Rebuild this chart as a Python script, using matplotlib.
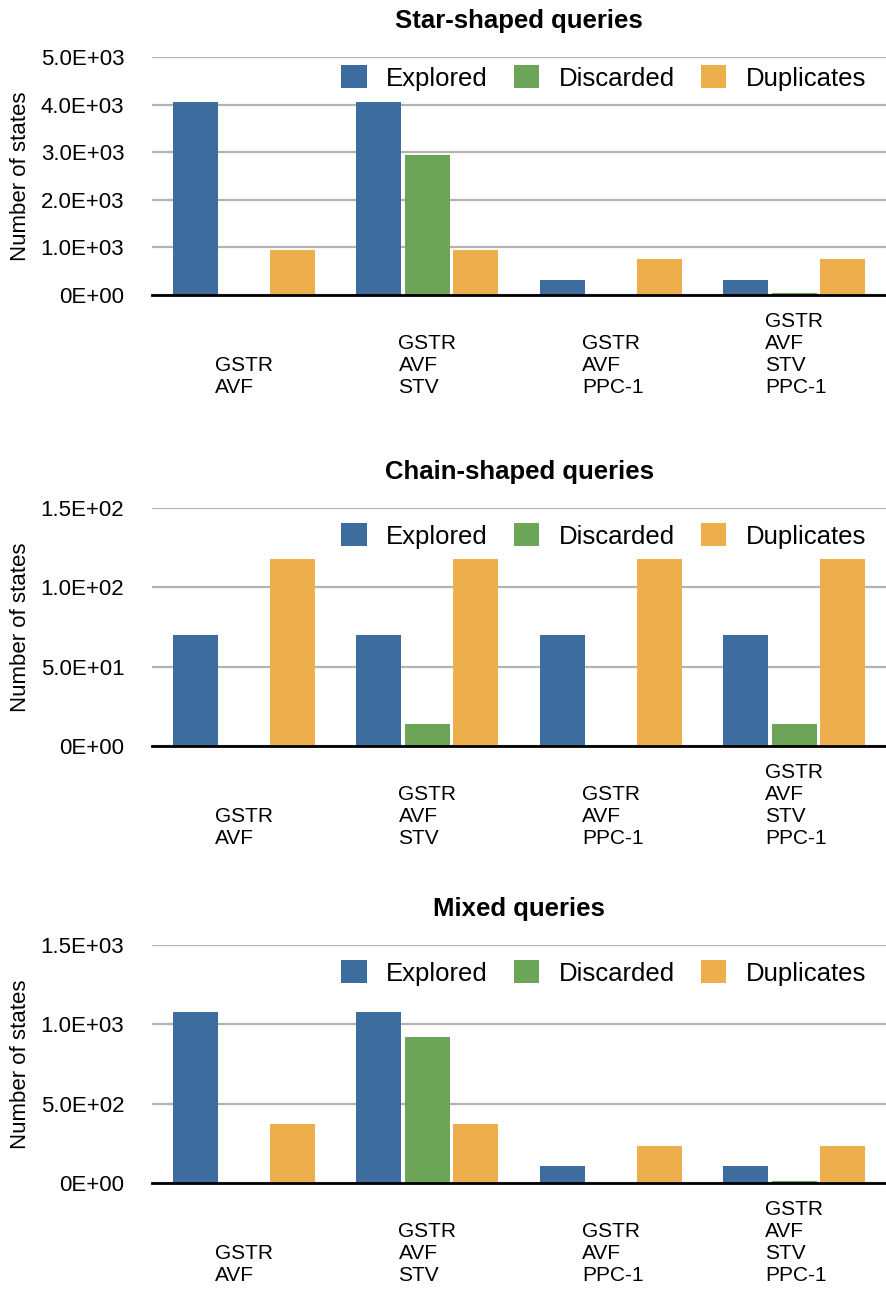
import numpy as np
import matplotlib.pyplot as plt
from matplotlib.transforms import blended_transform_factory

plt.rcParams['font.family'] = ['Liberation Sans', 'DejaVu Sans']

# data
categories = ['GSTR\nAVF', 'GSTR\nAVF\nSTV', 'GSTR\nAVF\nPPC-1', 'GSTR\nAVF\nSTV\nPPC-1']
series = ['Explored', 'Discarded', 'Duplicates']
colors = ['#3d6c9e', '#6ca458', '#ecaf4c']

titles = ['Star-shaped queries', 'Chain-shaped queries', 'Mixed queries']

star_explored = [4060, 4060, 320, 320]
star_discarded = [0, 2940, 0, 50]
star_duplicates = [950, 950, 760, 760]

chain_explored = [70, 70, 70, 70]
chain_discarded = [0, 14, 0, 14]
chain_duplicates = [118, 118, 118, 118]

mixed_explored = [1076, 1076, 105, 105]
mixed_discarded = [0, 918, 0, 10]
mixed_duplicates = [370, 370, 231, 231]

star_ticks = [0, 1000, 2000, 3000, 4000, 5000]
star_ticklabels = ['0E+00', '1.0E+03', '2.0E+03', '3.0E+03', '4.0E+03', '5.0E+03']
chain_ticks = [0, 50, 100, 150]
chain_ticklabels = ['0E+00', '5.0E+01', '1.0E+02', '1.5E+02']
mixed_ticks = [0, 500, 1000, 1500]
mixed_ticklabels = ['0E+00', '5.0E+02', '1.0E+03', '1.5E+03']

panels = [
    (star_explored, star_discarded, star_duplicates, star_ticks, star_ticklabels),
    (chain_explored, chain_discarded, chain_duplicates, chain_ticks, chain_ticklabels),
    (mixed_explored, mixed_discarded, mixed_duplicates, mixed_ticks, mixed_ticklabels),
]

fig = plt.figure(figsize=(8.86, 12.9), dpi=100)

bottoms = [0.7713, 0.4217, 0.0829]
legend_y = [0.912, 0.882, 0.882]
x = np.arange(len(categories))
offsets = [-0.264, 0.0, 0.264]
width = 0.245

for k, (expl, disc, dup, ticks, ticklabels) in enumerate(panels):
    ax = fig.add_axes([0.1716, bottoms[k], 0.8284, 0.1845])
    for vals, off, c, name in zip([expl, disc, dup], offsets, colors, series):
        ax.bar(x + off, vals, width, color=c, label=name, zorder=3)

    ax.set_xlim(-0.5, 3.5)
    ax.set_ylim(ticks[0], ticks[-1])
    ax.set_yticks(ticks)
    ax.set_yticklabels(ticklabels, fontsize=16)
    ax.set_xticks([])
    ax.tick_params(axis='y', length=0, pad=20)
    ax.yaxis.grid(True, color='#b3b3b3', lw=1.6)
    ax.set_axisbelow(True)
    for s in ['top', 'left', 'right']:
        ax.spines[s].set_visible(False)
    ax.spines['bottom'].set_linewidth(2)
    ax.spines['bottom'].set_zorder(4)

    ax.set_ylabel('Number of states', fontsize=16)
    ax.yaxis.set_label_coords(-0.1645, 0.5)
    ax.set_title(titles[k], fontsize=18.5, fontweight='bold', pad=21)

    trans = blended_transform_factory(ax.transData, ax.transAxes)
    for xi, lab in zip(x, categories):
        ax.text(xi - 0.157, -0.43, lab, transform=trans, ha='left', va='bottom',
                fontsize=15, linespacing=1.2)

    ax.legend(loc='center right', bbox_to_anchor=(0.973, legend_y[k]), ncol=3,
              frameon=False, fontsize=18.5, handlelength=1.0, handleheight=1.0,
              handletextpad=0.76, columnspacing=1.0, borderpad=0, borderaxespad=0)

fig.savefig('out.png', dpi=100)
